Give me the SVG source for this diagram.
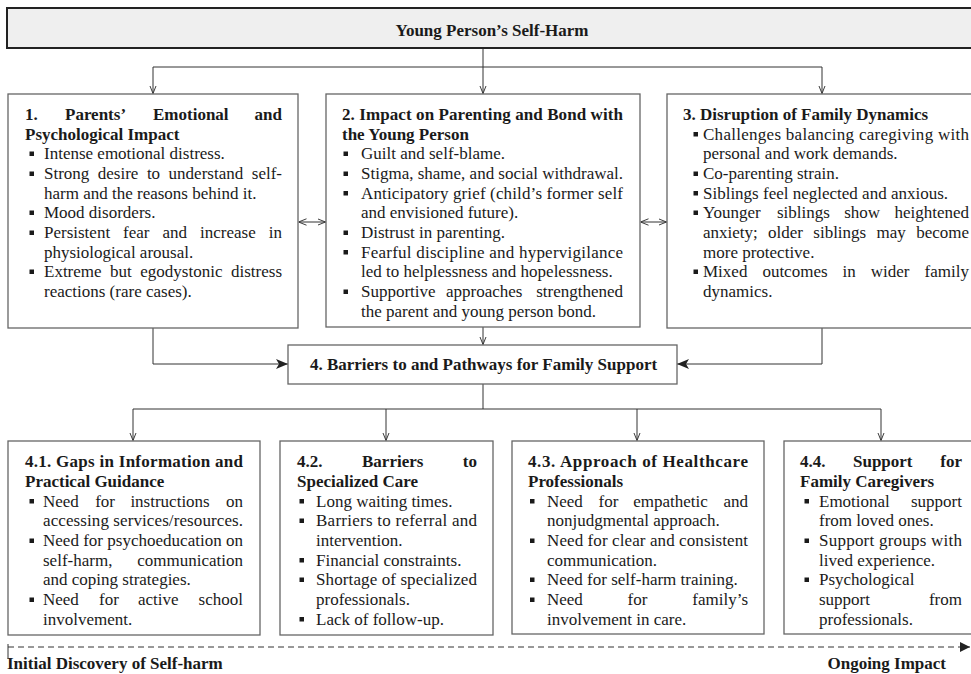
<svg xmlns="http://www.w3.org/2000/svg" width="971" height="674" viewBox="0 0 971 674">
<style>
.t{font-family:"Liberation Serif","Times New Roman",serif;font-size:17px;fill:#1a1a1a}
.b{font-weight:bold}
.box{fill:#fff;stroke:#666;stroke-width:1.3}
.top{fill:#efefef;stroke:#222;stroke-width:2}
.c{fill:none;stroke:#333;stroke-width:1}
.bl{fill:#1a1a1a}
</style>
<defs>
<marker id="open" viewBox="0 0 10 10" refX="10" refY="5" markerWidth="8" markerHeight="8" markerUnits="userSpaceOnUse" orient="auto-start-reverse"><path d="M0,1 L10,5 L0,9" fill="none" stroke="#333" stroke-width="1.2"/></marker>
<marker id="fill" viewBox="0 0 12 10" refX="12" refY="5" markerWidth="12" markerHeight="10" markerUnits="userSpaceOnUse" orient="auto"><path d="M0,0 L12,5 L0,10 L3,5 Z" fill="#222"/></marker>
<marker id="tri" viewBox="0 0 10 10" refX="10" refY="5" markerWidth="10" markerHeight="10" markerUnits="userSpaceOnUse" orient="auto"><path d="M0,0 L10,5 L0,10 Z" fill="#222"/></marker>
</defs>

<g id="connectors">
<path class="c" d="M483,48 V67 M153,67 H822"/>
<path class="c" d="M153,67 V93.5" marker-end="url(#open)"/>
<path class="c" d="M483,67 V93.5" marker-end="url(#open)"/>
<path class="c" d="M822,67 V93.5" marker-end="url(#open)"/>
<path class="c" d="M298.5,222 H325.5" marker-start="url(#open)" marker-end="url(#open)"/>
<path class="c" d="M640.5,222 H666.5" marker-start="url(#open)" marker-end="url(#open)"/>
<path class="c" d="M153,328 V364 H288" marker-end="url(#fill)"/>
<path class="c" d="M483,327 V344.5" marker-end="url(#open)"/>
<path class="c" d="M822,328 V364 H677" marker-end="url(#fill)"/>
<path class="c" d="M483,384 V409 M133,409 H881"/>
<path class="c" d="M133,409 V440.5" marker-end="url(#open)"/>
<path class="c" d="M386,409 V440.5" marker-end="url(#open)"/>
<path class="c" d="M637,409 V440.5" marker-end="url(#open)"/>
<path class="c" d="M881,409 V440.5" marker-end="url(#open)"/>
<path class="c" d="M8,647 H970" stroke-dasharray="6,4" marker-end="url(#tri)"/>
<path class="c" d="M8,644 V659"/>
</g>

<g id="top">
<rect class="top" x="7" y="8" width="972" height="40"/>
<text class="t b" x="492" y="35.5" text-anchor="middle">Young Person’s Self-Harm</text>
</g>

<g id="box1">
<rect class="box" x="8" y="94" width="290" height="234"/>
<text class="t b" y="120"><tspan x="25">1. </tspan><tspan x="65">Parents’ </tspan><tspan x="153">Emotional </tspan><tspan x="282" text-anchor="end">and</tspan></text>
<text class="t b" x="25" y="139.5">Psychological Impact</text>
<rect class="bl" x="29.5" y="151.5" width="4.5" height="4.5"/>
<rect class="bl" x="29.5" y="171.5" width="4.5" height="4.5"/>
<rect class="bl" x="29.5" y="210.5" width="4.5" height="4.5"/>
<rect class="bl" x="29.5" y="230.5" width="4.5" height="4.5"/>
<rect class="bl" x="29.5" y="269.5" width="4.5" height="4.5"/>
<text class="t" x="44" y="159">Intense emotional distress.</text>
<text class="t" y="179"><tspan x="44">Strong </tspan><tspan x="97.8">desire </tspan><tspan x="146.9">to </tspan><tspan x="168.6">understand </tspan><tspan x="282" text-anchor="end">self-</tspan></text>
<text class="t" x="44" y="198.5">harm and the reasons behind it.</text>
<text class="t" x="44" y="218">Mood disorders.</text>
<text class="t" y="238"><tspan x="44">Persistent </tspan><tspan x="123">fear </tspan><tspan x="162.5">and </tspan><tspan x="200">increase </tspan><tspan x="282" text-anchor="end">in</tspan></text>
<text class="t" x="44" y="257.5">physiological arousal.</text>
<text class="t" y="277"><tspan x="44">Extreme </tspan><tspan x="110.1">but </tspan><tspan x="140.3">egodystonic </tspan><tspan x="282" text-anchor="end">distress</tspan></text>
<text class="t" x="44" y="297">reactions (rare cases).</text>
</g>

<g id="box2">
<rect class="box" x="326" y="94" width="314" height="233"/>
<text class="t b" x="342" y="120" textLength="281" lengthAdjust="spacing">2. Impact on Parenting and Bond with</text>
<text class="t b" x="342" y="139.5">the Young Person</text>
<rect class="bl" x="343.5" y="151.5" width="4.5" height="4.5"/>
<rect class="bl" x="343.5" y="171.5" width="4.5" height="4.5"/>
<rect class="bl" x="343.5" y="191" width="4.5" height="4.5"/>
<rect class="bl" x="343.5" y="230.5" width="4.5" height="4.5"/>
<rect class="bl" x="343.5" y="250" width="4.5" height="4.5"/>
<rect class="bl" x="343.5" y="289.5" width="4.5" height="4.5"/>
<text class="t" x="361" y="159">Guilt and self-blame.</text>
<text class="t" x="361" y="179" textLength="262" lengthAdjust="spacing">Stigma, shame, and social withdrawal.</text>
<text class="t" x="361" y="198.5" textLength="262" lengthAdjust="spacing">Anticipatory grief (child’s former self</text>
<text class="t" x="361" y="218">and envisioned future).</text>
<text class="t" x="361" y="238">Distrust in parenting.</text>
<text class="t" x="361" y="257.5" textLength="262" lengthAdjust="spacing">Fearful discipline and hypervigilance</text>
<text class="t" x="361" y="277">led to helplessness and hopelessness.</text>
<text class="t" y="297"><tspan x="361">Supportive </tspan><tspan x="446">approaches </tspan><tspan x="623" text-anchor="end">strengthened</tspan></text>
<text class="t" x="361" y="316.5">the parent and young person bond.</text>
</g>

<g id="box3">
<rect class="box" x="667" y="94" width="312" height="234"/>
<text class="t b" x="683" y="120">3. Disruption of Family Dynamics</text>
<rect class="bl" x="693.5" y="132" width="4.5" height="4.5"/>
<rect class="bl" x="693.5" y="171.5" width="4.5" height="4.5"/>
<rect class="bl" x="693.5" y="191" width="4.5" height="4.5"/>
<rect class="bl" x="693.5" y="210.5" width="4.5" height="4.5"/>
<rect class="bl" x="693.5" y="269.5" width="4.5" height="4.5"/>
<text class="t" x="703" y="139.5" textLength="266" lengthAdjust="spacing">Challenges balancing caregiving with</text>
<text class="t" x="703" y="159">personal and work demands.</text>
<text class="t" x="703" y="179">Co-parenting strain.</text>
<text class="t" x="703" y="198.5">Siblings feel neglected and anxious.</text>
<text class="t" y="218"><tspan x="703">Younger </tspan><tspan x="776.9">siblings </tspan><tspan x="844.2">show </tspan><tspan x="969" text-anchor="end">heightened</tspan></text>
<text class="t" y="238"><tspan x="703">anxiety; </tspan><tspan x="768.1">older </tspan><tspan x="813.3">siblings </tspan><tspan x="876.5">may </tspan><tspan x="969" text-anchor="end">become</tspan></text>
<text class="t" x="703" y="257.5">more protective.</text>
<text class="t" y="277"><tspan x="703">Mixed </tspan><tspan x="762.4">outcomes </tspan><tspan x="842.6">in </tspan><tspan x="870.8">wider </tspan><tspan x="969" text-anchor="end">family</tspan></text>
<text class="t" x="703" y="297">dynamics.</text>
</g>

<g id="box4">
<rect class="box" x="288" y="345" width="389" height="39"/>
<text class="t b" x="483.5" y="369.5" text-anchor="middle">4. Barriers to and Pathways for Family Support</text>
</g>

<g id="box41">
<rect class="box" x="8" y="441" width="252" height="194"/>
<text class="t b" x="25" y="467" textLength="218" lengthAdjust="spacing">4.1. Gaps in Information and</text>
<text class="t b" x="25" y="487">Practical Guidance</text>
<rect class="bl" x="29.5" y="499" width="4.5" height="4.5"/>
<rect class="bl" x="29.5" y="538.5" width="4.5" height="4.5"/>
<rect class="bl" x="29.5" y="597.5" width="4.5" height="4.5"/>
<text class="t" y="506.5"><tspan x="43">Need </tspan><tspan x="95.2">for </tspan><tspan x="130.4">instructions </tspan><tspan x="243" text-anchor="end">on</tspan></text>
<text class="t" x="43" y="526" textLength="200" lengthAdjust="spacing">accessing services/resources.</text>
<text class="t" x="43" y="546" textLength="200" lengthAdjust="spacing">Need for psychoeducation on</text>
<text class="t" y="565.5"><tspan x="43">self-harm, </tspan><tspan x="243" text-anchor="end">communication</tspan></text>
<text class="t" x="43" y="585">and coping strategies.</text>
<text class="t" y="605"><tspan x="43">Need </tspan><tspan x="99">for </tspan><tspan x="137.9">active </tspan><tspan x="243" text-anchor="end">school</tspan></text>
<text class="t" x="43" y="624.5">involvement.</text>
</g>

<g id="box42">
<rect class="box" x="280" y="441" width="213" height="194"/>
<text class="t b" y="467"><tspan x="297">4.2. </tspan><tspan x="362">Barriers </tspan><tspan x="477" text-anchor="end">to</tspan></text>
<text class="t b" x="297" y="487">Specialized Care</text>
<rect class="bl" x="299.5" y="499" width="4.5" height="4.5"/>
<rect class="bl" x="299.5" y="518.5" width="4.5" height="4.5"/>
<rect class="bl" x="299.5" y="558" width="4.5" height="4.5"/>
<rect class="bl" x="299.5" y="577.5" width="4.5" height="4.5"/>
<rect class="bl" x="299.5" y="617" width="4.5" height="4.5"/>
<text class="t" x="316" y="506.5">Long waiting times.</text>
<text class="t" x="316" y="526" textLength="161" lengthAdjust="spacing">Barriers to referral and</text>
<text class="t" x="316" y="546">intervention.</text>
<text class="t" x="316" y="565.5">Financial constraints.</text>
<text class="t" x="316" y="585" textLength="161" lengthAdjust="spacing">Shortage of specialized</text>
<text class="t" x="316" y="605">professionals.</text>
<text class="t" x="316" y="624.5">Lack of follow-up.</text>
</g>

<g id="box43">
<rect class="box" x="512" y="441" width="252" height="193"/>
<text class="t b" x="528" y="467" textLength="220" lengthAdjust="spacing">4.3. Approach of Healthcare</text>
<text class="t b" x="528" y="487">Professionals</text>
<rect class="bl" x="530" y="499" width="4.5" height="4.5"/>
<rect class="bl" x="530" y="538.5" width="4.5" height="4.5"/>
<rect class="bl" x="530" y="577.5" width="4.5" height="4.5"/>
<rect class="bl" x="530" y="597.5" width="4.5" height="4.5"/>
<text class="t" y="506.5"><tspan x="547">Need </tspan><tspan x="598.6">for </tspan><tspan x="633.2">empathetic </tspan><tspan x="748" text-anchor="end">and</tspan></text>
<text class="t" x="547" y="526">nonjudgmental approach.</text>
<text class="t" x="547" y="546" textLength="201" lengthAdjust="spacing">Need for clear and consistent</text>
<text class="t" x="547" y="565.5">communication.</text>
<text class="t" x="547" y="585">Need for self-harm training.</text>
<text class="t" y="605"><tspan x="547">Need </tspan><tspan x="627.6">for </tspan><tspan x="748" text-anchor="end">family’s</tspan></text>
<text class="t" x="547" y="624.5">involvement in care.</text>
</g>

<g id="box44">
<rect class="box" x="784" y="441" width="200" height="193"/>
<text class="t b" y="467"><tspan x="800">4.4. </tspan><tspan x="853">Support </tspan><tspan x="962" text-anchor="end">for</tspan></text>
<text class="t b" x="800" y="487">Family Caregivers</text>
<rect class="bl" x="804.5" y="499" width="4.5" height="4.5"/>
<rect class="bl" x="804.5" y="538.5" width="4.5" height="4.5"/>
<rect class="bl" x="804.5" y="577.5" width="4.5" height="4.5"/>
<text class="t" y="506.5"><tspan x="819">Emotional </tspan><tspan x="962" text-anchor="end">support</tspan></text>
<text class="t" x="819" y="526">from loved ones.</text>
<text class="t" x="819" y="546" textLength="143" lengthAdjust="spacing">Support groups with</text>
<text class="t" x="819" y="565.5">lived experience.</text>
<text class="t" x="819" y="585">Psychological</text>
<text class="t" y="605"><tspan x="819">support </tspan><tspan x="962" text-anchor="end">from</tspan></text>
<text class="t" x="819" y="624.5">professionals.</text>
</g>

<g id="timeline">
<text class="t b" x="7" y="668.5">Initial Discovery of Self-harm</text>
<text class="t b" x="946" y="668.5" text-anchor="end">Ongoing Impact</text>
</g>
</svg>
